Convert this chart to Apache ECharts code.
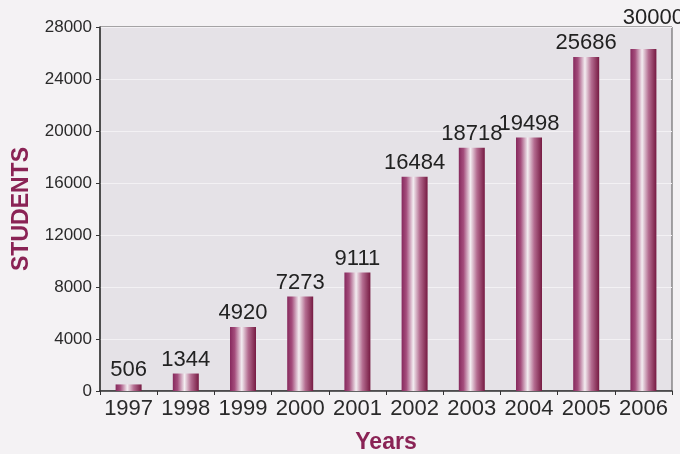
<!DOCTYPE html>
<html>
<head>
<meta charset="utf-8">
<script src="https://cdn.jsdelivr.net/npm/echarts@6/dist/echarts.min.js"></script>
<style>
html,body{margin:0;padding:0;background:#f4f2f4;}
#c{width:680px;height:454px;}
</style>
</head>
<body>
<div id="c"></div>
<script>
const years = ['1997','1998','1999','2000','2001','2002','2003','2004','2005','2006'];
const students = [506, 1344, 4920, 7273, 9111, 16484, 18718, 19498, 25686, 26300];
const valueLabels = ['506','1344','4920','7273','9111','16484','18718','19498','25686','30000'];
const yMin = 0, yMax = 28000, yStep = 4000;

const barGradient = {
  type: 'linear', x: 0, y: 0, x2: 1, y2: 0,
  colorStops: [
    {offset: 0, color: '#86295d'},
    {offset: 0.18, color: '#a44d7c'},
    {offset: 0.45, color: '#f3edf1'},
    {offset: 0.7, color: '#b46c90'},
    {offset: 1, color: '#761a42'}
  ]
};

const chart = echarts.init(document.getElementById('c'));
chart.setOption({
  backgroundColor: '#f4f2f4',
  animation: false,
  textStyle: {fontFamily: 'Liberation Sans, Arial, sans-serif'},
  grid: {left: 100, right: 8, top: 27, bottom: 63, show: true,
         containLabel: false, outerBoundsMode: 'none',
         backgroundColor: '#e5e2e7', borderColor: '#555', borderWidth: 1},
  xAxis: {
    type: 'category', data: years,
    name: 'Years', nameLocation: 'middle', nameGap: 40,
    nameTextStyle: {color: '#8a2355', fontSize: 23, fontWeight: 'bold'},
    axisLine: {lineStyle: {color: '#333', width: 1.5}},
    axisTick: {show: true, length: 4, lineStyle: {color: '#333'}},
    axisLabel: {color: '#2a2a2a', fontSize: 22, margin: 7, interval: 0}
  },
  yAxis: {
    type: 'value', min: yMin, max: yMax, interval: yStep,
    name: 'STUDENTS', nameLocation: 'middle', nameGap: 67, nameRotate: 90,
    nameTextStyle: {color: '#8a2355', fontSize: 23, fontWeight: 'bold'},
    axisLine: {show: true, lineStyle: {color: '#333', width: 1.5}},
    axisTick: {show: true, length: 4, lineStyle: {color: '#333'}},
    axisLabel: {color: '#2a2a2a', fontSize: 17, margin: 8, formatter: v => String(v)},
    splitLine: {lineStyle: {color: '#f3f1f4', width: 1}}
  },
  series: [{
    type: 'bar',
    barWidth: 26,
    data: students.map((v, i) => i === years.length - 1
      ? {value: v, label: {offset: [10, -17]}}
      : v),
    itemStyle: {color: barGradient},
    label: {
      show: true, position: 'top', distance: 3,
      color: '#222', fontSize: 22,
      formatter: p => valueLabels[p.dataIndex]
    }
  }]
});
</script>
</body>
</html>
